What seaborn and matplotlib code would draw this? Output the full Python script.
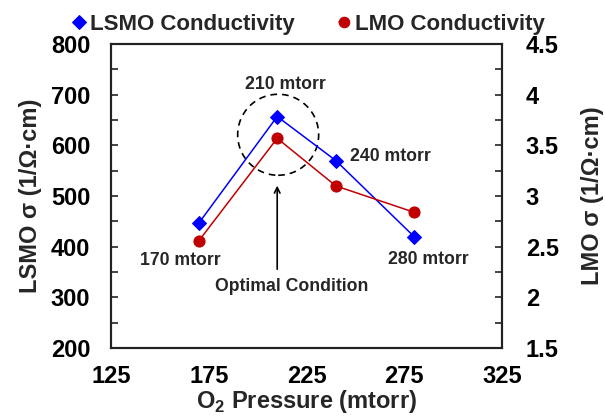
import matplotlib
matplotlib.use("Agg")
import matplotlib.pyplot as plt
import seaborn as sns
import pandas as pd
from matplotlib.patches import Ellipse

pressure = [170, 210, 240, 280]
lsmo_sigma = [447, 657, 570, 420]
lmo_sigma = [2.56, 3.57, 3.10, 2.84]
x_ticks = [125, 175, 225, 275, 325]
left_ticks = [200, 300, 400, 500, 600, 700, 800]
right_ticks = [1.5, 2, 2.5, 3, 3.5, 4, 4.5]
right_labels = ["1.5", "2", "2.5", "3", "3.5", "4", "4.5"]
point_labels = ["170 mtorr", "210 mtorr", "240 mtorr", "280 mtorr"]

sns.set_style("white")
plt.rcParams['font.family'] = ['Liberation Sans', 'DejaVu Sans']
plt.rcParams['font.weight'] = 'bold'
plt.rcParams['mathtext.fontset'] = 'custom'
plt.rcParams['mathtext.bf'] = 'Liberation Sans:bold'
plt.rcParams['mathtext.rm'] = 'Liberation Sans:bold'

df = pd.DataFrame({"p": pressure, "lsmo": lsmo_sigma, "lmo": lmo_sigma})

fig = plt.figure(figsize=(6.05, 4.16), dpi=100)
ax = fig.add_axes([0.1835, 0.1635, 0.6463, 0.7305])
ax2 = ax.twinx()

blue = "#0000FF"
red = "#C00000"
sns.lineplot(data=df, x="p", y="lsmo", ax=ax, color=blue, marker="D",
             markersize=7, markeredgecolor=blue, linewidth=1.1, label="LSMO Conductivity", legend=False)
sns.lineplot(data=df, x="p", y="lmo", ax=ax2, color=red, marker="o",
             markersize=8, markeredgecolor=red, linewidth=1.1, label="LMO Conductivity", legend=False)

ax.set_xlim(125, 325)
ax.set_ylim(200, 800)
ax2.set_ylim(1.5, 4.5)
ax.set_xticks(x_ticks)
ax.set_xticks([150, 200, 250, 300], minor=True)
ax.set_yticks(left_ticks)
ax.set_yticks([250, 350, 450, 550, 650, 750], minor=True)
ax2.set_yticks(right_ticks)
ax2.set_yticklabels(right_labels)
ax2.set_yticks([1.75, 2.25, 2.75, 3.25, 3.75, 4.25], minor=True)

for a in (ax, ax2):
    a.tick_params(which='both', direction='in', length=5, width=1.2, colors='#222222',
                  labelsize=17, labelcolor='black', pad=15)
    for s in a.spines.values():
        s.set_linewidth(1.5)
        s.set_color('#222222')
    for lab in a.get_xticklabels() + a.get_yticklabels():
        lab.set_fontweight('bold')
ax.tick_params(axis='x', which='both', top=False, pad=12)
ax2.tick_params(axis='y', pad=17)

ax.set_xlabel("O$_\\mathrm{2}$ Pressure (mtorr)", fontsize=17, fontweight='bold', labelpad=0)
ax.set_ylabel("LSMO σ (1/Ω·cm)", fontsize=17, fontweight='bold', labelpad=6)
ax2.set_ylabel("LMO σ (1/Ω·cm)", fontsize=17, fontweight='bold', rotation=90, labelpad=16)

# annotations
ann_pos = [(160.5, 372), (214, 720), (268, 578), (287.5, 375)]
for txt, (xx, yy) in zip(point_labels, ann_pos):
    ax.text(xx, yy, txt, ha='center', va='center', fontsize=12.7, fontweight='bold')
ax.text(217.5, 321, "Optimal Condition", ha='center', va='center', fontsize=12.7, fontweight='bold')
ax.annotate("", xy=(210, 526), xytext=(210, 350),
            arrowprops=dict(arrowstyle='->', color='black', lw=1.2))

# dashed circle (circle in pixel space)
x_per_px = 200 / (0.6463 * 605)
y_per_px = 600 / (0.7305 * 416)
r_px = 40.5
ell = Ellipse((210.5, 621), width=2 * r_px * x_per_px, height=2 * r_px * y_per_px,
              fill=False, linestyle=(0, (4, 3)), edgecolor='black', lw=1.2)
ax.add_patch(ell)

h1, l1 = ax.get_legend_handles_labels()
h2, l2 = ax2.get_legend_handles_labels()
fig.legend(h1 + h2, l1 + l2, loc='upper center', bbox_to_anchor=(0.512, 1.015), ncol=2,
           frameon=False, prop={'weight': 'bold', 'size': 16},
           handlelength=0.4, handletextpad=0.3, columnspacing=2.0, markerscale=0.95)

fig.savefig("out.png", dpi=100)
